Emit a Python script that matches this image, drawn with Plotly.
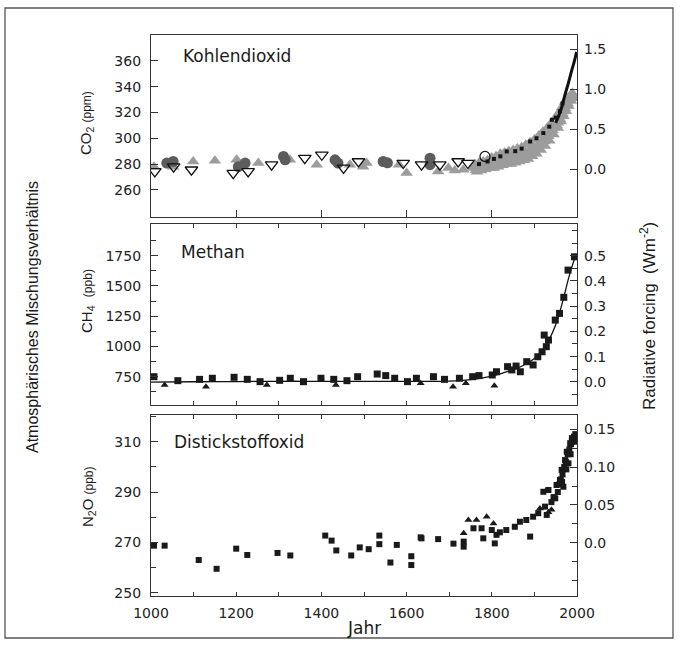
import plotly.graph_objects as go

# ---------------- DATA ----------------
# CO2 (ppm)
co2_open_tri_years = [1009, 1053, 1095, 1193, 1228, 1283, 1361, 1401, 1452, 1487, 1592, 1635, 1678, 1721, 1744]
co2_open_tri_vals = [274.3, 278, 275.6, 273, 274.3, 279.5, 284.6, 287.2, 277, 282, 280.8, 279.5, 279.5, 282, 280.8]
co2_open_circ_years = [1784]
co2_open_circ_vals = [285.9]
co2_circ_years = [1037, 1052, 1205, 1221, 1311, 1315, 1432, 1439, 1545, 1555, 1655, 1655]
co2_circ_vals = [280.8, 282, 278, 280.8, 285.9, 283.3, 283.3, 280.8, 282, 281, 284.6, 279.5]
co2_tri_years = [1007, 1052, 1099, 1150, 1201, 1252, 1326, 1389, 1467, 1498, 1506, 1553, 1582, 1600, 1674, 1698, 1713, 1733, 1757,
                 1765, 1775, 1785, 1795, 1805, 1815, 1825, 1835, 1845, 1855, 1865, 1875, 1885, 1895, 1905, 1915, 1925, 1935, 1945, 1955, 1962, 1968, 1974, 1980, 1986, 1990,
                 1760, 1770, 1780, 1790, 1800, 1810, 1820, 1830, 1840, 1850, 1860, 1870, 1880, 1890, 1900, 1910, 1920, 1930, 1940, 1950, 1958, 1965, 1972, 1978, 1984, 1989,
                 1768, 1778, 1788, 1798, 1808, 1818, 1828, 1838, 1848, 1858, 1868, 1878, 1888, 1898, 1908, 1918, 1928, 1938, 1948, 1955, 1962, 1968, 1975, 1982, 1988,
                 1763, 1773, 1783, 1793, 1803, 1813, 1823, 1833, 1843, 1853, 1863, 1873, 1883, 1893, 1903, 1913, 1923, 1933, 1943, 1952, 1960, 1966, 1972, 1978, 1984, 1991]
co2_tri_vals = [278, 278, 282, 282.5, 283.3, 280.8, 283.3, 279.5, 279.5, 278, 280.8, 280.8, 279.5, 273, 274.3, 277, 275, 275.6, 277,
                274, 275, 276, 277, 277, 278, 279, 280, 280, 281, 282, 283, 284, 286, 288, 291, 294, 298, 303, 308, 313, 317, 321, 325, 329, 331,
                280, 281, 282, 283, 285, 286, 288, 289, 290, 291, 292, 293, 295, 297, 299, 302, 305, 308, 312, 316, 320, 324, 328, 331, 333, 335,
                277, 278, 280, 281, 282, 283, 284, 285, 286, 287, 288, 289, 291, 293, 295, 298, 301, 305, 309, 312, 317, 321, 325, 329, 332,
                275.5, 276.5, 278, 279, 279.5, 280.5, 281.5, 282.5, 283, 284, 285, 286, 287.5, 289.5, 291.5, 294.5, 297.5, 301.5, 306, 310, 315, 319, 323, 327, 331, 333]
co2_dark_years = [1770, 1790, 1805, 1820, 1835, 1855, 1870, 1890, 1905, 1921, 1935, 1941, 1950, 1960, 1966]
co2_dark_vals = [280, 282, 284, 286, 289.8, 290, 292, 297.5, 300, 304, 309, 314.3, 316, 321, 327]
co2_line_years = [1950, 1958, 1965, 1972, 1980, 1988, 1994, 1999]
co2_line_vals = [312, 318, 325, 334, 343, 353, 360, 367]

# CH4 (ppb)
ch4_sq_years = [1007, 1063, 1114, 1144, 1195, 1226, 1256, 1302, 1327, 1358, 1399, 1429, 1460, 1485, 1531, 1551, 1572, 1602,
                1623, 1663, 1689, 1724, 1755, 1770, 1801, 1811, 1837, 1847, 1857, 1867, 1882, 1897, 1908, 1918, 1928, 1923,
                1933, 1949, 1959, 1969, 1979, 1994]
ch4_sq_vals = [750, 717, 728, 737, 745, 728, 709, 720, 737, 709, 737, 728, 717, 750, 772, 759, 737, 709,
               737, 750, 728, 737, 750, 759, 764, 791, 833, 806, 838, 791, 874, 847, 915, 956, 998, 1094,
               1053, 1218, 1273, 1406, 1631, 1741]
ch4_tri_years = [1032, 1129, 1272, 1434, 1633, 1709, 1739, 1806]
ch4_tri_vals = [681, 667, 681, 681, 695, 667, 695, 676]
ch4_line_years = [1000, 1100, 1200, 1300, 1400, 1500, 1600, 1700, 1750, 1800, 1830, 1860, 1880, 1900, 1920, 1935,
                  1950, 1960, 1970, 1980, 1990, 1998]
ch4_line_vals = [705, 708, 710, 712, 712, 712, 712, 713, 725, 755, 785, 820, 855, 900, 975, 1060,
                 1180, 1290, 1420, 1560, 1680, 1760]

# N2O (ppb)
n2o_sq_years = [1007, 1032, 1112, 1154, 1200, 1226, 1297, 1327, 1409, 1424, 1435, 1470, 1490, 1511, 1536, 1536, 1562,
                1577, 1611, 1611, 1633, 1635, 1674, 1710, 1734, 1734, 1757, 1776, 1780, 1800, 1811, 1807, 1819, 1834,
                1854, 1866, 1881, 1890, 1897, 1909, 1925, 1921, 1933, 1929, 1949, 1952, 1960, 1964, 1968, 1972, 1976,
                1980, 1984, 1988, 1988, 1955, 1958, 1962, 1966, 1970, 1974, 1978, 1982, 1986, 1990, 1993, 1996, 1998,
                1994, 1985, 1975, 1965, 1945, 1940]
n2o_sq_vals = [268.7, 268.7, 263, 259.5, 267.5, 265, 265.8, 264.8, 272.7, 270.7, 266.8, 264.8, 268, 267.3, 272.7, 269.3, 262,
               269, 264.5, 261, 272, 271.6, 271.3, 269.5, 270.3, 268.3, 275.6, 275.6, 271.6, 274.9, 273, 269.6, 274, 274.9,
               276.2, 278.2, 278.9, 272.3, 280.2, 281.6, 284.2, 290.1, 290.8, 280.9, 287.5, 292.8, 294.8, 298.8, 292.1, 302.7, 306,
               301.4, 309.4, 311.4, 310, 290, 293, 295, 297, 300, 302, 305, 307, 309, 311, 312, 313, 311,
               310, 305, 299, 294, 288, 286]
n2o_tri_years = [1734, 1745, 1764, 1788, 1804, 1913, 1928, 1933, 1940]
n2o_tri_vals = [273.6, 278.9, 278.9, 280.2, 277.5, 283.5, 290.7, 282, 283]

# Axis ticks / labels
x_ticks_panel1 = [1200, 1400, 1600, 1800]
co2_ticks = [260, 280, 300, 320, 340, 360]
co2_rf_ticks = [0.0, 0.5, 1.0, 1.5]
co2_rf_labels = ["0.0", "0.5", "1.0", "1.5"]
ch4_ticks = [750, 1000, 1250, 1500, 1750]
ch4_minor = [625, 875, 1125, 1375, 1625, 1875]
ch4_rf_ticks = [0.0, 0.1, 0.2, 0.3, 0.4, 0.5]
ch4_rf_labels = ["0.0", "0.1", "0.2", "0.3", "0.4", "0.5"]
n2o_ticks = [250, 270, 290, 310]
n2o_minor = [260, 280, 300, 320]
n2o_rf_ticks = [0.0, 0.05, 0.10, 0.15]
n2o_rf_labels = ["0.0", "0.05", "0.10", "0.15"]

# ---------------- FIGURE ----------------
W, H = 680, 647
def px(x):
    return x / W
def py(y):
    return 1 - y / H

XD = [px(151), px(577)]
D1 = [py(217), py(35)]
D2 = [py(405), py(224)]
D3 = [py(596), py(415)]

LC = "#333333"
TF = dict(family="DejaVu Sans", size=14, color="#222222")
LIGHT = "#9c9c9c"
DARK = "#5c5c5c"

fig = go.Figure()

# CO2 panel
fig.add_trace(go.Scatter(x=co2_tri_years, y=co2_tri_vals, mode="markers", xaxis="x", yaxis="y",
                         marker=dict(symbol="triangle-up", size=11, color=LIGHT, line=dict(width=0))))
fig.add_trace(go.Scatter(x=co2_circ_years, y=co2_circ_vals, mode="markers", xaxis="x", yaxis="y",
                         marker=dict(symbol="circle", size=11, color=DARK, line=dict(width=0))))
fig.add_trace(go.Scatter(x=co2_open_tri_years, y=co2_open_tri_vals, mode="markers", xaxis="x", yaxis="y",
                         marker=dict(symbol="triangle-down-open", size=11, color="#111111", line=dict(width=1.3))))
fig.add_trace(go.Scatter(x=co2_open_circ_years, y=co2_open_circ_vals, mode="markers", xaxis="x", yaxis="y",
                         marker=dict(symbol="circle-open", size=10, color="#111111", line=dict(width=1.2))))
fig.add_trace(go.Scatter(x=co2_dark_years, y=co2_dark_vals, mode="markers", xaxis="x", yaxis="y",
                         marker=dict(symbol="square", size=4, color="#151515")))
fig.add_trace(go.Scatter(x=co2_line_years, y=co2_line_vals, mode="lines", xaxis="x", yaxis="y",
                         line=dict(color="#111111", width=3, shape="spline")))

# CH4 panel
fig.add_trace(go.Scatter(x=ch4_line_years, y=ch4_line_vals, mode="lines", xaxis="x2", yaxis="y3",
                         line=dict(color="#111111", width=1.3, shape="spline")))
fig.add_trace(go.Scatter(x=ch4_sq_years, y=ch4_sq_vals, mode="markers", xaxis="x2", yaxis="y3",
                         marker=dict(symbol="square", size=7, color="#1a1a1a")))
fig.add_trace(go.Scatter(x=ch4_tri_years, y=ch4_tri_vals, mode="markers", xaxis="x2", yaxis="y3",
                         marker=dict(symbol="triangle-up", size=7, color="#1a1a1a")))

# N2O panel
fig.add_trace(go.Scatter(x=n2o_sq_years, y=n2o_sq_vals, mode="markers", xaxis="x3", yaxis="y5",
                         marker=dict(symbol="square", size=6, color="#1a1a1a")))
fig.add_trace(go.Scatter(x=n2o_tri_years, y=n2o_tri_vals, mode="markers", xaxis="x3", yaxis="y5",
                         marker=dict(symbol="triangle-up", size=7, color="#1a1a1a")))

# empty traces so the radiative-forcing axes are drawn
for xa, ya in (("x", "y2"), ("x2", "y4"), ("x3", "y6")):
    fig.add_trace(go.Scatter(x=[], y=[], mode="markers", xaxis=xa, yaxis=ya, hoverinfo="skip"))

common_x = dict(range=[1000, 2000], domain=XD, showline=True, linecolor=LC, linewidth=1.3, mirror=True,
                ticks="inside", tickcolor=LC, showgrid=False, zeroline=False, tickfont=TF, automargin=False)
common_y = dict(showline=True, linecolor=LC, linewidth=1.3, mirror=True, ticks="inside", tickcolor=LC,
                ticklen=7, showgrid=False, zeroline=False, tickfont=TF, ticklabelstandoff=6, automargin=False)
common_r = dict(side="right", showline=False, ticks="inside", tickcolor=LC, ticklen=7, showgrid=False,
                zeroline=False, tickfont=TF, ticklabelstandoff=6, automargin=False)

fig.update_layout(
    width=W, height=H, margin=dict(l=0, r=0, t=0, b=0, pad=0), autosize=False,
    paper_bgcolor="white", plot_bgcolor="white", showlegend=False,
    xaxis=dict(common_x, anchor="y", tickvals=x_ticks_panel1, ticklen=7, showticklabels=False),
    xaxis2=dict(common_x, anchor="y3", tickmode="linear", tick0=1000, dtick=100, ticklen=4,
                mirror="ticks", showticklabels=False),
    xaxis3=dict(common_x, anchor="y5", tickmode="linear", tick0=1000, dtick=200, ticklen=4,
                mirror="ticks", showticklabels=True, ticklabelstandoff=4,
                minor=dict(tickmode="linear", tick0=1000, dtick=100, ticklen=4, ticks="inside", tickcolor=LC)),
    yaxis=dict(common_y, domain=D1, anchor="x", range=[239, 380], tickvals=co2_ticks),
    yaxis2=dict(common_r, overlaying="y", anchor="x", range=[-0.596, 1.679], tickvals=co2_rf_ticks,
                ticktext=co2_rf_labels),
    yaxis3=dict(common_y, domain=D2, anchor="x2", range=[516, 2012], tickvals=ch4_ticks,
                minor=dict(tickvals=ch4_minor, ticklen=5, ticks="inside", tickcolor=LC)),
    yaxis4=dict(common_r, overlaying="y3", anchor="x2", range=[-0.092, 0.626], tickvals=ch4_rf_ticks,
                ticktext=ch4_rf_labels,
                minor=dict(tickmode="linear", tick0=0, dtick=0.05, ticklen=5, ticks="inside", tickcolor=LC)),
    yaxis5=dict(common_y, domain=D3, anchor="x3", range=[248.7, 320.6], tickvals=n2o_ticks,
                minor=dict(tickvals=n2o_minor, ticklen=5, ticks="inside", tickcolor=LC)),
    yaxis6=dict(common_r, overlaying="y5", anchor="x3", range=[-0.0705, 0.169], tickvals=n2o_rf_ticks,
                ticktext=n2o_rf_labels,
                minor=dict(tickmode="linear", tick0=0, dtick=0.025, ticklen=5, ticks="inside", tickcolor=LC)),
)

ann_font = dict(family="DejaVu Sans", size=17, color="#1a1a1a")
vt_font = dict(family="Liberation Sans", size=16, color="#1a1a1a")
annotations = [
    dict(text="Kohlendioxid", x=px(181), y=py(56), xanchor="left", yanchor="middle", font=ann_font),
    dict(text="Methan", x=px(179), y=py(252), xanchor="left", yanchor="middle", font=ann_font),
    dict(text="Distickstoffoxid", x=px(172), y=py(442), xanchor="left", yanchor="middle", font=ann_font),
    dict(text="CO<sub>2</sub> <span style='font-size:12px'>(ppm)</span>", x=px(87), y=py(123), textangle=-90,
         xanchor="center", yanchor="middle", font=dict(family="Liberation Sans", size=15, color="#1a1a1a")),
    dict(text="CH<sub>4</sub>  <span style='font-size:12px'>(ppb)</span>", x=px(87), y=py(301), textangle=-90,
         xanchor="center", yanchor="middle", font=dict(family="Liberation Sans", size=15, color="#1a1a1a")),
    dict(text="N<sub>2</sub>O <span style='font-size:12px'>(ppb)</span>", x=px(88), y=py(497), textangle=-90,
         xanchor="center", yanchor="middle", font=dict(family="Liberation Sans", size=15, color="#1a1a1a")),
    dict(text="Atmosphärisches Mischungsverhältnis", x=px(33), y=py(317), textangle=-90,
         xanchor="center", yanchor="middle", font=vt_font),
    dict(text="Radiative forcing  (Wm<sup>-2</sup>)", x=px(648), y=py(316), textangle=-90,
         xanchor="center", yanchor="middle", font=dict(family="Liberation Sans", size=17, color="#1a1a1a")),
    dict(text="Jahr", x=px(364), y=py(628), xanchor="center", yanchor="middle",
         font=dict(family="DejaVu Sans", size=17, color="#1a1a1a")),
]
for a in annotations:
    a.update(xref="paper", yref="paper", showarrow=False)
fig.update_layout(annotations=annotations)

fig.add_shape(type="rect", xref="paper", yref="paper", x0=px(5), x1=px(673), y0=py(638), y1=py(8),
              line=dict(color="#555555", width=1.3))

fig.write_html("out.html", config={"displayModeBar": False},
               post_script="document.body.style.margin='0';")
